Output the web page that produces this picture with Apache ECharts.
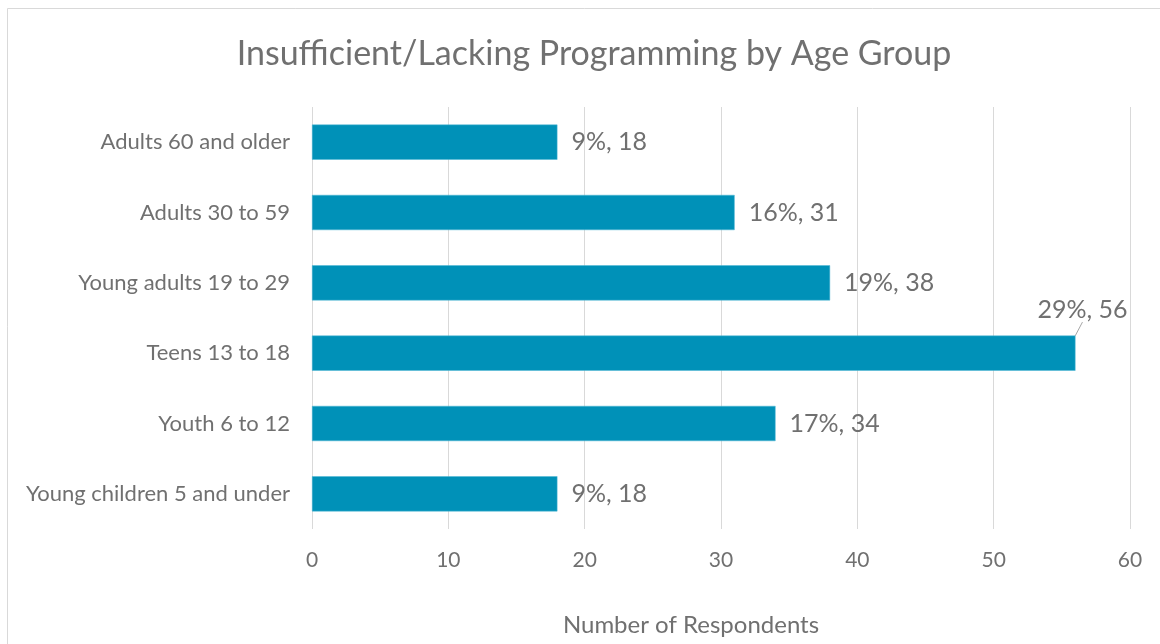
<!DOCTYPE html>
<html>
<head>
<meta charset="utf-8">
<script src="https://cdn.jsdelivr.net/npm/echarts@6/dist/echarts.min.js"></script>
<style>
html,body{margin:0;padding:0;background:#fff;}
#chart{width:1160px;height:644px;}
</style>
</head>
<body>
<div id="chart"></div>
<script>
const categories = ['Adults 60 and older','Adults 30 to 59','Young adults 19 to 29','Teens 13 to 18','Youth 6 to 12','Young children 5 and under'];
const values = [18, 31, 38, 56, 34, 18];
const percents = ['9%', '16%', '19%', '29%', '17%', '9%'];
const xTicks = {min: 0, max: 60, interval: 10};

const FONT = 'Lato';
const TXT = '#707070';

const chart = echarts.init(document.getElementById('chart'), null, {renderer: 'canvas'});
chart.setOption({
  backgroundColor: '#fff',
  animation: false,
  graphic: [{
    type: 'rect', silent: true,
    shape: {x: 7.5, y: 8.5, width: 1200, height: 700},
    style: {fill: 'none', stroke: '#d9d9d9', lineWidth: 1}
  }],
  title: {
    text: 'Insufficient/Lacking Programming by Age Group',
    left: 589, top: 32, textAlign: 'center',
    textStyle: {fontFamily: FONT, fontSize: 34, fontWeight: 'normal', color: TXT}
  },
  grid: {left: 312, right: 30, top: 107, height: 422, containLabel: false},
  xAxis: {
    type: 'value', min: xTicks.min, max: xTicks.max, interval: xTicks.interval,
    axisLine: {show: false}, axisTick: {show: false},
    splitLine: {show: true, lineStyle: {color: '#d9d9d9', width: 1}},
    axisLabel: {color: TXT, fontFamily: FONT, fontSize: 21, margin: 21},
    name: 'Number of Respondents', nameLocation: 'middle', nameGap: 84,
    nameTextStyle: {color: TXT, fontFamily: FONT, fontSize: 24, padding: [0, 60, 0, 0]}
  },
  yAxis: {
    type: 'category', data: categories, inverse: true,
    axisLine: {show: false}, axisTick: {show: false},
    axisLabel: {color: TXT, fontFamily: FONT, fontSize: 22, margin: 22}
  },
  series: [{
    type: 'bar',
    data: values.map((v, i) => {
      const item = {value: v};
      if (i === 3) {
        item.labelLine = {show: true, lineStyle: {color: '#a6a6a6', width: 1}};
      }
      return item;
    }),
    barCategoryGap: '50%',
    itemStyle: {color: '#0091B8', borderColor: '#4fb6d4', borderWidth: 0.5},
    label: {
      show: true, position: 'right', distance: 14,
      color: TXT, fontFamily: FONT, fontSize: 25,
      formatter: p => percents[p.dataIndex] + ', ' + p.value
    },
    labelLayout: function (params) {
      if (params.dataIndex === 3) {
        return {
          x: params.rect.x + params.rect.width + 7,
          y: params.rect.y - 26,
          align: 'center', verticalAlign: 'middle'
        };
      }
      return {};
    }
  }]
});
</script>
</body>
</html>
